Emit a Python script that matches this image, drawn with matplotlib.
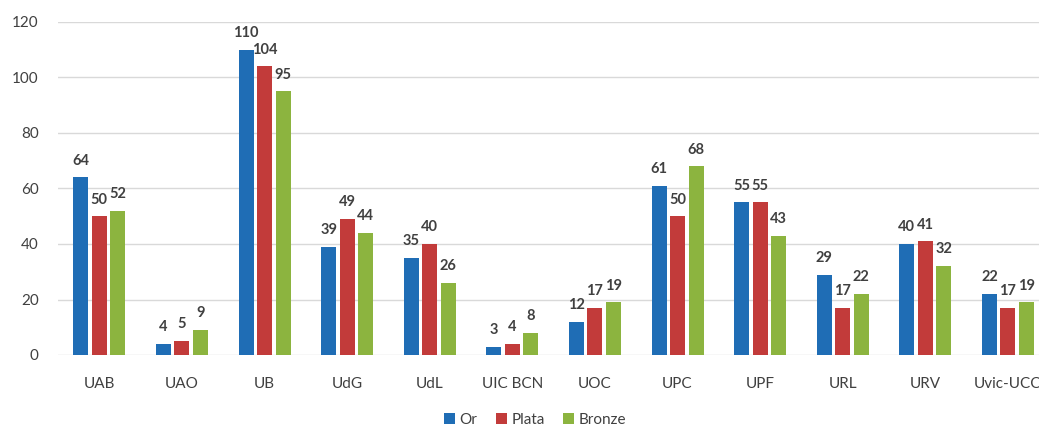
import matplotlib
matplotlib.use("Agg")
import matplotlib.pyplot as plt
import numpy as np

categories = ["UAB", "UAO", "UB", "UdG", "UdL", "UIC BCN", "UOC", "UPC", "UPF", "URL", "URV", "Uvic-UCC"]
series_names = ["Or", "Plata", "Bronze"]
or_vals = [64, 4, 110, 39, 35, 3, 12, 61, 55, 29, 40, 22]
plata_vals = [50, 5, 104, 49, 40, 4, 17, 50, 55, 17, 41, 17]
bronze_vals = [52, 9, 95, 44, 26, 8, 19, 68, 43, 22, 32, 19]
colors = ["#1f6db5", "#c23b3a", "#8cb43f"]

plt.rcParams['font.family'] = ['Lato', 'DejaVu Sans']

fig = plt.figure(figsize=(10.39, 4.29), dpi=100)
left_px = 58
ax = fig.add_axes([left_px/1039, 1-355/429, 1-left_px/1039, (355-22)/429])

x = np.arange(len(categories))
bw = 15/82.6
step = 18.5/82.6
data = [or_vals, plata_vals, bronze_vals]
for i, (vals, name, c) in enumerate(zip(data, series_names, colors)):
    pos = x + (i - 1) * step
    ax.bar(pos, vals, width=bw, color=c, label=name, zorder=3)
    for p, v in zip(pos, vals):
        ax.annotate(str(v), (p, v), xytext=(0, 7), textcoords="offset points",
                    ha="center", va="bottom", fontsize=10.5, color="#404040", fontweight="bold")

ax.set_xlim(-0.5, -0.5 + (1039 - left_px) / 82.6)
ax.set_ylim(0, 120)
ax.set_yticks(range(0, 121, 20))
ax.set_xticks(x)
ax.set_xticklabels(categories)
ax.grid(axis="y", color="#d9d9d9", linewidth=1, zorder=0)
for s in ax.spines.values():
    s.set_visible(False)
ax.tick_params(axis="both", length=0, colors="#404040", labelsize=11)
ax.tick_params(axis="x", pad=16)
ax.tick_params(axis="y", pad=14)

leg = fig.legend(loc="center", bbox_to_anchor=(0.515, 1-420/429), ncol=3, frameon=False,
                 fontsize=11, handlelength=0.7, handleheight=0.7, handletextpad=0.3, columnspacing=1.2)
for t in leg.get_texts():
    t.set_color("#404040")

fig.savefig("out.png", dpi=100, facecolor="white")
